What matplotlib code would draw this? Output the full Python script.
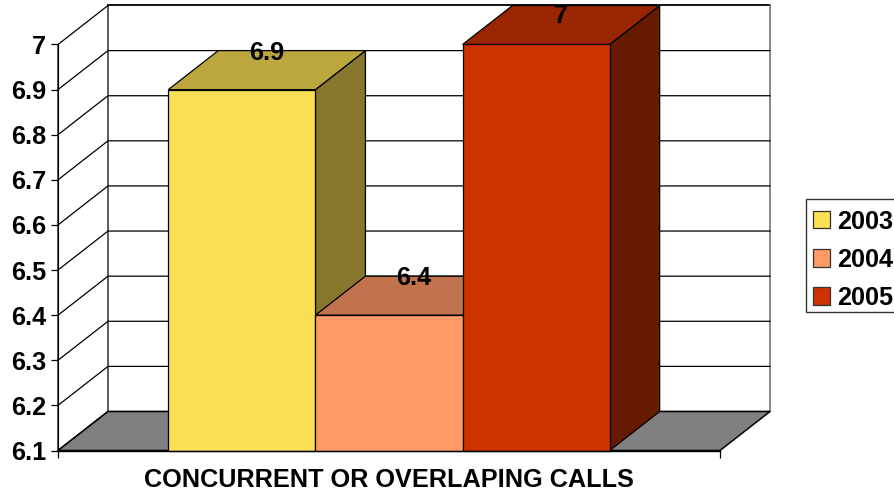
import matplotlib
matplotlib.use("Agg")
import matplotlib.pyplot as plt
from matplotlib.patches import Polygon, Patch, Rectangle
import numpy as np

plt.rcParams['font.family'] = ['Liberation Sans', 'DejaVu Sans']
plt.rcParams['font.weight'] = 'bold'

category = "CONCURRENT OR OVERLAPING CALLS"
years = ["2003", "2004", "2005"]
values = [6.9, 6.4, 7.0]
value_labels = ["6.9", "6.4", "7"]
y_ticks = [6.1, 6.2, 6.3, 6.4, 6.5, 6.6, 6.7, 6.8, 6.9, 7.0]
y_tick_labels = ["6.1", "6.2", "6.3", "6.4", "6.5", "6.6", "6.7", "6.8", "6.9", "7"]
front_colors = ["#FBDF55", "#FF9966", "#CC3300"]
top_colors = ["#BCA73F", "#C0734D", "#992600"]
side_colors = ["#86772D", "#805033", "#661A00"]

W, H = 894, 491
L, R, B, T = 58, 720, 450.5, 44.5
FS = 18.2
fig = plt.figure(figsize=(W / 100, H / 100), dpi=100, facecolor="white")
ax = fig.add_axes([L / W, 1 - B / H, (R - L) / W, (B - T) / H])
ymin, ymax = 6.1, 7.0
xmin, xmax = 0.0, 4.5
ax.set_xlim(xmin, xmax)
ax.set_ylim(ymin, ymax)
ax.patch.set_visible(False)

px_x = (xmax - xmin) / (R - L)
px_y = (ymax - ymin) / (B - T)
dx = 50 * px_x
dy = 39 * px_y
lw = 0.9

# walls
ax.add_patch(Polygon([(xmin, ymin), (xmin + dx, ymin + dy), (xmin + dx, ymax + dy), (xmin, ymax)],
                     closed=True, fc="white", ec="black", lw=lw, clip_on=False, zorder=1))
ax.plot([xmin + dx, xmax + dx], [ymax + dy, ymax + dy], color="black", lw=1.3, clip_on=False, zorder=2)
ax.plot([xmax + dx, xmax + dx], [ymin + dy, ymax + dy], color="#777777", lw=1.2, clip_on=False, zorder=2)
for t in y_ticks[:-1]:
    ax.plot([xmin, xmin + dx, xmax + dx], [t, t + dy, t + dy], color="black", lw=0.9,
            clip_on=False, zorder=2, solid_joinstyle="miter")
# floor
ax.add_patch(Polygon([(xmin, ymin), (xmax, ymin), (xmax + dx, ymin + dy), (xmin + dx, ymin + dy)],
                     closed=True, fc="#808080", ec="black", lw=1.1, clip_on=False, zorder=3))

# bars
bar_w = 1.0
start = (xmax - xmin - bar_w * len(values)) / 2 + xmin
z = 4
label_cap = 7.0 + 28 * px_y
for i, v in enumerate(values):
    x0 = start + i * bar_w
    x1 = x0 + bar_w
    ax.add_patch(Polygon([(x1, ymin), (x1 + dx, ymin + dy), (x1 + dx, v + dy), (x1, v)], closed=True,
                         fc=side_colors[i], ec="black", lw=lw, clip_on=False, zorder=z))
    ax.add_patch(Polygon([(x0, v), (x1, v), (x1 + dx, v + dy), (x0 + dx, v + dy)], closed=True,
                         fc=top_colors[i], ec="black", lw=lw, clip_on=False, zorder=z))
    ax.add_patch(Polygon([(x0, ymin), (x1, ymin), (x1, v), (x0, v)], closed=True,
                         fc=front_colors[i], ec="black", lw=lw, clip_on=False, zorder=z))
    z += 1

for i, (v, s) in enumerate(zip(values, value_labels)):
    xc = start + (i + 0.5) * bar_w + dx / 2
    ax.text(xc, min(v + 37 * px_y, label_cap), s, ha="center", va="center", fontsize=FS,
            fontweight="bold", color="black", clip_on=False, zorder=20)

# axes
for s in ("top", "right"):
    ax.spines[s].set_visible(False)
ax.spines["left"].set_linewidth(0.8)
ax.spines["bottom"].set_linewidth(1.0)
ax.spines["left"].set_zorder(15)
ax.spines["bottom"].set_zorder(15)
ax.set_yticks(y_ticks, labels=y_tick_labels)
ax.tick_params(axis="y", length=5, width=0.9, pad=3.5, labelsize=FS)
ax.set_xticks([(xmin + xmax) / 2], labels=[category])
ax.tick_params(axis="x", which="major", length=0, pad=12.5, labelsize=FS)
ax.set_xticks([xmin, xmax], minor=True)
ax.tick_params(axis="x", which="minor", length=5, width=0.9)

# legend frame (runs off the right edge of the figure, as in the reference)
fig.add_artist(Rectangle((805.5 / W, 1 - 311.5 / H), 100 / W, 113 / H, transform=fig.transFigure,
                         fc="white", ec="#333333", lw=1.0, zorder=5))
handles = [Patch(fc=c, ec="#333333", lw=0.9) for c in front_colors]
leg = fig.legend(handles, years, loc="upper left",
                 bbox_to_anchor=(813 / W, 1 - 209.6 / H), bbox_transform=fig.transFigure,
                 fontsize=FS, frameon=False,
                 borderpad=0, labelspacing=0.56, handlelength=0.68, handleheight=0.68,
                 handletextpad=0.26, borderaxespad=0)
leg.set_zorder(6)

fig.savefig("out.png", dpi=100, facecolor="white")
